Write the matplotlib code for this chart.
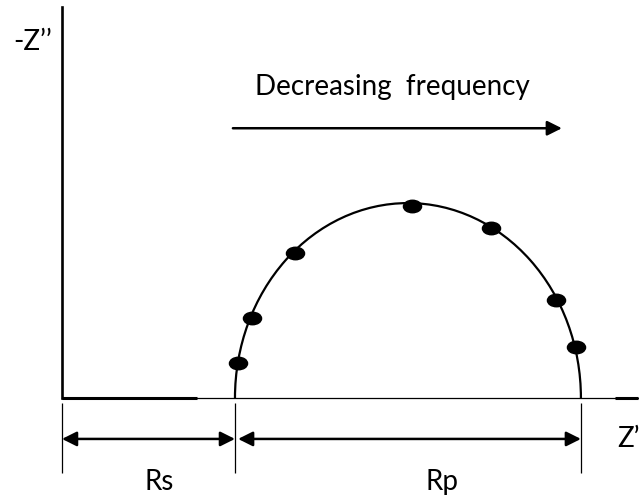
import matplotlib.pyplot as plt
from matplotlib.patches import Arc
from matplotlib.markers import MarkerStyle
from matplotlib.transforms import Affine2D

plt.rcParams['font.family'] = ['Lato', 'DejaVu Sans']

# impedance values (arbitrary ohms)
rs = 50
rp = 100
# measured points along the arc
z_real = [50.9, 54.9, 67.3, 101.2, 124.0, 142.8, 148.6]
z_imag = [9.0, 20.5, 37.2, 49.2, 43.6, 25.1, 13.1]

def main():
    fig = plt.figure(figsize=(6.39, 5), dpi=100)
    ax = fig.add_axes([62/639, 102/500, 576/639, 391/500])
    ax.set_xlim(0, 166.5)
    ax.set_ylim(0, 100.3)
    ax.set_xticks([])
    ax.set_yticks([])
    for s in ['top', 'right']:
        ax.spines[s].set_visible(False)
    ax.spines['left'].set_linewidth(1.9)
    ax.spines['bottom'].set_linewidth(0.9)

    # thick bits on the real axis
    ax.plot([0, 39], [0, 0], color='black', lw=2.2, solid_capstyle='butt', clip_on=False)
    ax.plot([159.8, 166.5], [0, 0], color='black', lw=2.2, solid_capstyle='butt', clip_on=False)

    # semicircle
    arc = Arc((rs + rp/2, 0), rp, rp, theta1=0, theta2=180, color='black', lw=1.6)
    ax.add_patch(arc)

    m = MarkerStyle('o', transform=Affine2D().scale(1.45, 1))
    ax.plot(z_real, z_imag, ls='none', marker=m, ms=9, color='black', clip_on=False)

    # frequency arrow
    ax.annotate('', xy=(144.5, 69.2), xytext=(49.4, 69.2),
                arrowprops=dict(arrowstyle='-|>', color='black', lw=1.8,
                                mutation_scale=22, shrinkA=0, shrinkB=0))
    ax.text(95.5, 79.7, 'Decreasing  frequency', ha='center', va='center', fontsize=20)

    # resistance markers under the axis
    ax.vlines([0, rs, rs + rp], -1.3, -19.2, color='black', lw=0.9, clip_on=False)
    ax.annotate('', xy=(rs, -10.5), xytext=(0, -10.5), annotation_clip=False,
                arrowprops=dict(arrowstyle='<|-|>', color='black', lw=1.8,
                                mutation_scale=22, shrinkA=0, shrinkB=0))
    ax.annotate('', xy=(rs + rp, -10.5), xytext=(rs + 0.9, -10.5), annotation_clip=False,
                arrowprops=dict(arrowstyle='<|-|>', color='black', lw=1.8,
                                mutation_scale=22, shrinkA=0, shrinkB=0))
    ax.text(28.0, -21.5, 'Rs', ha='center', va='center', fontsize=20, clip_on=False)
    ax.text(109.8, -21.5, 'Rp', ha='center', va='center', fontsize=20, clip_on=False)
    ax.text(160.4, -10.5, "Z\u2019", ha='left', va='center', fontsize=20, clip_on=False)
    ax.text(-8.4, 91.3, "-Z\u2019\u2019", ha='center', va='center', fontsize=20, clip_on=False)

    fig.savefig('out.png', dpi=100)


if __name__ == "__main__":
    main()
